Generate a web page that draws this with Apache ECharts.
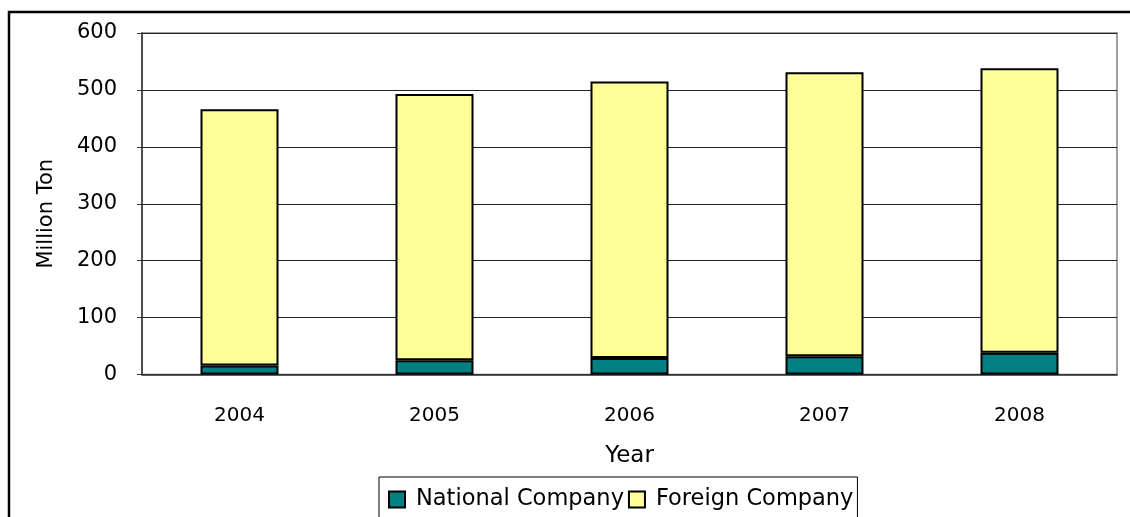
<!DOCTYPE html>
<html>
<head>
<meta charset="utf-8">
<script src="https://cdn.jsdelivr.net/npm/echarts@6/dist/echarts.min.js"></script>
<style>html,body{margin:0;padding:0;background:#fff}#c{width:1130px;height:517px}</style>
</head>
<body>
<div id="c"></div>
<script>
const years = ['2004', '2005', '2006', '2007', '2008'];
const nationalCompany = [16, 25, 29, 32, 38];
const foreignCompany = [450, 468, 486, 499, 500];
const yTicks = { min: 0, max: 600, interval: 100 };

const FONT = 'DejaVu Sans';
const chart = echarts.init(document.getElementById('c'), null, { renderer: 'canvas' });
chart.setOption({
  animation: false,
  backgroundColor: '#fff',
  textStyle: { fontFamily: FONT, color: '#000' },
  graphic: [{
    type: 'rect', silent: true, z: 100,
    shape: { x: 9, y: 12, width: 1200, height: 600 },
    style: { fill: 'none', stroke: '#000', lineWidth: 2.5 }
  }],
  grid: { left: 142, right: 13, top: 33, bottom: 142.5, show: true, borderColor: '#808080', borderWidth: 1.5, backgroundColor: 'transparent' },
  legend: {
    left: 379, top: 477,
    data: ['National Company', 'Foreign Company'],
    icon: 'rect', itemWidth: 16, itemHeight: 16, itemGap: 4,
    borderColor: '#000', borderWidth: 1, padding: [11, 4, 30, 9],
    textStyle: { fontFamily: FONT, fontSize: 22.5, color: '#000', padding: [0, 0, 0, 6] }
  },
  xAxis: {
    type: 'category', data: years,
    name: 'Year', nameLocation: 'middle', nameGap: 70,
    nameTextStyle: { fontFamily: FONT, fontSize: 23, color: '#000' },
    axisLine: { lineStyle: { color: '#333', width: 1.5 } },
    axisTick: { inside: true, length: 10, lineStyle: { color: '#333' } },
    axisLabel: { fontFamily: FONT, fontSize: 20, color: '#000', margin: 31 }
  },
  yAxis: {
    type: 'value', min: yTicks.min, max: yTicks.max, interval: yTicks.interval,
    name: 'Million Ton', nameLocation: 'middle', nameGap: 85, nameRotate: 90,
    nameTextStyle: { fontFamily: FONT, fontSize: 21, color: '#000', padding: [0, 20, 0, 0] },
    axisLine: { show: true, lineStyle: { color: '#333', width: 1.5 } },
    axisTick: { show: true, length: 5, lineStyle: { color: '#333' } },
    axisLabel: { fontFamily: FONT, fontSize: 21, color: '#000', margin: 25 },
    splitLine: { show: true, lineStyle: { color: '#222', width: 1 } }
  },
  series: [
    {
      name: 'National Company', type: 'bar', stack: 'total', data: nationalCompany,
      barWidth: 78,
      itemStyle: { color: '#008080', borderColor: '#000', borderWidth: 2 }
    },
    {
      name: 'Foreign Company', type: 'bar', stack: 'total', data: foreignCompany,
      barWidth: 78,
      itemStyle: { color: '#FFFF99', borderColor: '#000', borderWidth: 2 }
    }
  ]
});
</script>
</body>
</html>
